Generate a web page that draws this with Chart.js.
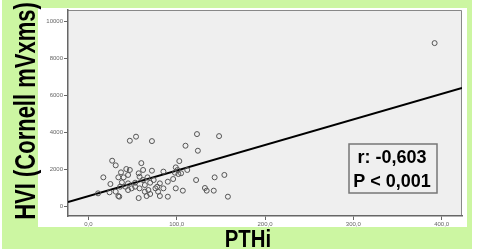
<!DOCTYPE html>
<html>
<head>
<meta charset="utf-8">
<script src="https://cdn.jsdelivr.net/npm/chart.js@4"></script>
<style>
body { margin: 0; background: #fff; }
canvas { display: block; }
</style>
</head>
<body>
<canvas id="canvas" width="479" height="252"></canvas>
<script>
// PTHi (x) and HVI (y)
const pthi = [47, 54, 72, 123, 148, 110, 124, 27, 31, 60, 103, 17, 25,
  34, 37, 43, 47, 45, 40, 38, 36, 42, 45, 49, 53, 57, 58, 62, 62, 64,
  67, 70, 72, 74, 78, 81, 85, 90, 96, 98, 99, 101, 102, 105, 112, 122,
  99, 107, 132, 134, 142, 143, 154, 158, 11, 24, 31, 34, 35, 57, 66, 70,
  79, 81, 90, 58, 53, 45, 68, 76, 85, 64, 392]
const hvi = [3530, 3750, 3510, 3890, 3780, 3260, 2990, 2450, 2200, 2320, 2430, 1550, 1190,
  1550, 1820, 2000, 1950, 1680, 1550, 1280, 1045, 1045, 1225, 955, 1260, 1770, 1585, 1950, 1405, 1135,
  1550, 1260, 1910, 1405, 1045, 1225, 1860, 1315, 1460, 1800, 2090, 1950, 1730, 1770, 1950, 1405,
  955, 830, 975, 830, 830, 1550, 1680, 505, 685, 740, 775, 540, 505, 430, 540, 650,
  775, 540, 505, 955, 1045, 865, 865, 955, 955, 775, 8810]
// fit line end points
const lineX = [-23, 423]
const lineY = [216, 6378]
const xTicks = [0, 100, 200, 300, 400]
const yTicks = [0, 2000, 4000, 6000, 8000, 10000]
const xTitle = 'PTHi'
const yTitle = 'HVI (Cornell mVxms)'
const stats = ['r: -0,603', 'P < 0,001']

const frame = {
  id: 'frame',
  beforeDraw(chart) {
    const c = chart.ctx
    const a = chart.chartArea
    c.save()
    c.fillStyle = '#fff'
    c.fillRect(0, 0, 479, 252)
    c.fillStyle = '#ccf6a2'
    c.fillRect(2, 0, 470, 249)
    c.fillStyle = '#fff'
    c.fillRect(38, 8, 429, 219)
    c.fillStyle = '#efefef'
    c.fillRect(a.left, a.top, a.right - a.left, a.bottom - a.top)
    c.strokeStyle = '#888'
    c.lineWidth = 1
    c.beginPath()
    c.moveTo(a.left, a.top + 0.5)
    c.lineTo(a.right - 0.5, a.top + 0.5)
    c.lineTo(a.right - 0.5, a.bottom)
    c.stroke()
    c.restore()
  },
  afterDraw(chart) {
    const c = chart.ctx
    c.save()
    c.fillStyle = '#000'
    // x title
    c.font = 'bold 24px "Liberation Sans", Arial, sans-serif'
    c.textAlign = 'center'
    c.textBaseline = 'alphabetic'
    c.save()
    c.translate(248, 247)
    c.scale(0.85, 1)
    c.fillText(xTitle, 0, 0)
    c.restore()
    // y title
    c.save()
    c.translate(35, 111)
    c.rotate(-Math.PI / 2)
    c.scale(1, 1.3)
    c.font = 'bold 22px "Liberation Sans", Arial, sans-serif'
    c.fillText(yTitle, 0, 0)
    c.restore()
    // stats box
    c.fillStyle = '#efefef'
    c.fillRect(349, 144, 88, 49)
    c.strokeStyle = '#777'
    c.lineWidth = 1.5
    c.strokeRect(349, 144, 88, 49)
    c.fillStyle = '#000'
    c.font = 'bold 18px "Liberation Sans", Arial, sans-serif'
    c.fillText(stats[0], 392, 163)
    c.fillText(stats[1], 392, 187)
    c.restore()
  }
}

const ctx = document.getElementById('canvas').getContext('2d')
new Chart(ctx, {
  type: 'scatter',
  data: {
    datasets: [{
      data: pthi.map((x, i) => ({x: x, y: hvi[i]})),
      pointRadius: 2.5,
      pointBorderWidth: 1,
      borderColor: '#555',
      backgroundColor: 'rgba(0,0,0,0)'
    }, {
      type: 'line',
      data: lineX.map((x, i) => ({x: x, y: lineY[i]})),
      borderColor: '#000',
      borderWidth: 2,
      pointRadius: 0
    }]
  },
  options: {
    responsive: false,
    animation: false,
    layout: { padding: { left: 38, right: 17, top: 10, bottom: 25 } },
    plugins: { legend: { display: false }, tooltip: { enabled: false } },
    scales: {
      x: {
        type: 'linear',
        min: -23,
        max: 423,
        afterBuildTicks: s => { s.ticks = xTicks.map(v => ({value: v})) },
        afterFit: s => { s.height = 11 },
        ticks: {
          color: '#666',
          padding: 1,
          maxRotation: 0,
          font: { size: 6, family: 'Arial' },
          callback: v => v.toFixed(1).replace('.', ',')
        },
        grid: { drawOnChartArea: false, drawTicks: true, tickLength: 4, color: '#666' },
        border: { color: '#666', width: 1.5 }
      },
      y: {
        min: -540,
        max: 10600,
        afterBuildTicks: s => { s.ticks = yTicks.map(v => ({value: v})) },
        afterFit: s => { s.width = 30 },
        ticks: {
          color: '#666',
          padding: 1,
          font: { size: 6, family: 'Arial' },
          callback: v => String(v)
        },
        grid: { drawOnChartArea: false, drawTicks: true, tickLength: 4, color: '#666' },
        border: { color: '#666', width: 1.5 }
      }
    }
  },
  plugins: [frame]
})
</script>
</body>
</html>
